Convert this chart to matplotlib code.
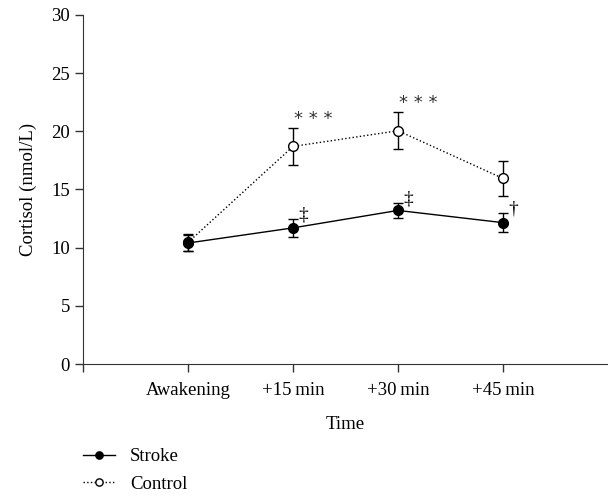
import numpy as np
import matplotlib
matplotlib.use("Agg")
import matplotlib.pyplot as plt

# ---------------------------------------------------------------------------
# Data
# ---------------------------------------------------------------------------
time_labels = ["Awakening", "+15\u2009min", "+30\u2009min", "+45\u2009min"]
stroke_mean = [10.4, 11.7, 13.2, 12.15]
stroke_err = [0.7, 0.75, 0.65, 0.8]
control_mean = [10.45, 18.7, 20.05, 15.95]
control_err = [0.7, 1.6, 1.6, 1.5]
control_marks = ["", "* * *", "* * *", ""]
stroke_marks = ["", "\u2021", "\u2021", "\u2020"]

plt.rcParams["font.family"] = ["Liberation Serif", "DejaVu Serif"]
plt.rcParams["font.size"] = 13.5

fig = plt.figure(figsize=(6.08, 4.98), dpi=100)
ax = fig.add_axes([0.1365, 0.269, 0.8635, 0.701])

x = np.arange(1, len(time_labels) + 1)

ax.errorbar(x, control_mean, yerr=control_err, color="black", ls=":", lw=1,
            marker="o", ms=7, mfc="white", mec="black", mew=1,
            capsize=3.5, elinewidth=1, capthick=1, label="Control", zorder=3)
ax.errorbar(x, stroke_mean, yerr=stroke_err, color="black", ls="-", lw=1,
            marker="o", ms=7, mfc="black", mec="black",
            capsize=3.5, elinewidth=1, capthick=1, label="Stroke", zorder=4)

for xi, m, e, s in zip(x, control_mean, control_err, control_marks):
    if s:
        ax.annotate(s, (xi, m + e), xytext=(1, 0), textcoords="offset points",
                    ha="left", va="bottom", fontsize=13, family="DejaVu Sans",
                    color="#333333")
for xi, m, e, s in zip(x, stroke_mean, stroke_err, stroke_marks):
    if s:
        ax.annotate(s, (xi, m + e), xytext=(4, -3), textcoords="offset points",
                    ha="left", va="bottom", fontsize=14)

ax.set_xlim(0, 5)
ax.set_ylim(0, 30)
ax.set_xticks([0] + list(x))
ax.set_xticklabels([""] + time_labels)
ax.set_yticks(np.arange(0, 31, 5))
ax.tick_params(direction="out", length=6, width=1, color="#333333")
ax.tick_params(axis="x", pad=7)
ax.spines["top"].set_visible(False)
ax.spines["right"].set_visible(False)
for sp in ("left", "bottom"):
    ax.spines[sp].set_color("#333333")
ax.set_xlabel("Time", labelpad=12)
ax.set_ylabel("Cortisol (nmol/L)", labelpad=10)

h, l = ax.get_legend_handles_labels()
h = [hh[0] for hh in h]
fig.legend(h[::-1], l[::-1], loc="upper left", bbox_to_anchor=(0.137, 0.1),
           frameon=False, handlelength=1.7, borderpad=0, borderaxespad=0,
           labelspacing=0.55, handletextpad=0.8, markerscale=0.75)

fig.savefig("out.png", dpi=100)
